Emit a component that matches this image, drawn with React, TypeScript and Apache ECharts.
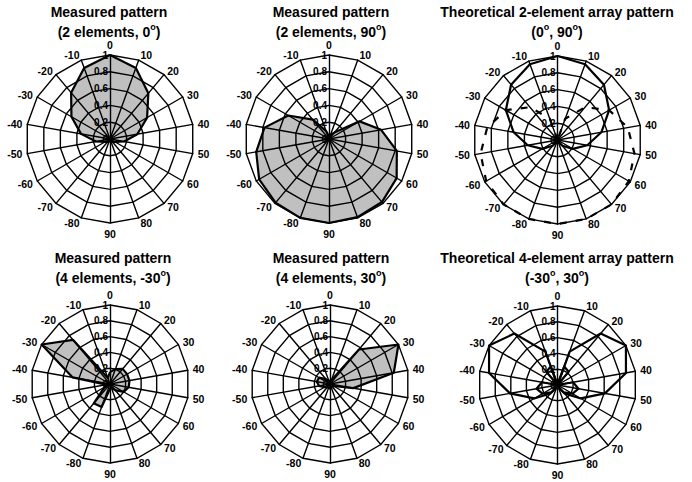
import { useEffect, useRef } from 'react';
import * as echarts from 'echarts';

// Bearing of each spoke, listed clockwise from the top (0) round to -10.
const ANGLES = [0, 10, 20, 30, 40, 50, 60, 70, 80, 90, -80, -70, -60, -50, -40, -30, -20, -10];

// Normalised amplitude at each bearing, in the same order as ANGLES.
const MEASURED_2EL_0 = [1, 0.9, 0.71, 0.51, 0.33, 0.17, 0.07, 0.04, 0.03, 0.03, 0.03, 0.04, 0.07, 0.17, 0.35, 0.53, 0.72, 0.9];
const MEASURED_2EL_90 = [0.03, 0.05, 0.1, 0.42, 0.63, 0.82, 0.93, 0.98, 0.99, 1, 1, 0.99, 0.96, 0.88, 0.78, 0.56, 0.3, 0.1];
const THEORY_2EL_0 = [1, 0.96, 0.86, 0.71, 0.53, 0.36, 0.21, 0.09, 0.02, 0, 0.02, 0.09, 0.21, 0.36, 0.53, 0.71, 0.86, 0.96];
const THEORY_2EL_90 = [0, 0.27, 0.51, 0.71, 0.85, 0.93, 0.98, 1, 1, 1, 1, 1, 0.98, 0.93, 0.85, 0.71, 0.51, 0.27];
const MEASURED_4EL_M30 = [0.15, 0.2, 0.25, 0.25, 0.25, 0.24, 0.2, 0.1, 0.05, 0.06, 0.31, 0.32, 0.08, 0.05, 0.48, 1, 0.73, 0.08];
const MEASURED_4EL_30 = [0.05, 0.05, 0.57, 1, 0.82, 0.3, 0.05, 0.04, 0.05, 0.06, 0.05, 0.05, 0.08, 0.14, 0.17, 0.16, 0.08, 0.04];
const THEORY_4EL_M30 = [0, 0.25, 0.22, 0, 0.2, 0.27, 0.22, 0.12, 0.03, 0, 0.03, 0.14, 0.34, 0.61, 0.88, 1, 0.85, 0.45];
const THEORY_4EL_30 = [0, 0.45, 0.85, 1, 0.88, 0.61, 0.34, 0.14, 0.03, 0, 0.03, 0.12, 0.22, 0.27, 0.2, 0, 0.22, 0.25];

const RADIAL_MIN = 0;
const RADIAL_MAX = 1;
const RADIAL_SPLITS = 5;

const FONT = '"Liberation Sans", Arial, sans-serif';
const FILL = '#c0c0c0';
const INK = '#000';

// ECharts places radar indicators counter-clockwise from the start angle,
// so keep the first entry at the top and reverse the rest.
const ccw = <T,>(arr: T[]): T[] => [arr[0], ...arr.slice(1).reverse()];

const makeRadar = (center: [number, number], radius: number) => ({
  center,
  radius,
  startAngle: 90,
  shape: 'polygon',
  splitNumber: RADIAL_SPLITS,
  z: 4,
  silent: true,
  indicator: ccw(ANGLES).map((a, i) => ({
    name: String(a),
    min: RADIAL_MIN,
    max: RADIAL_MAX,
    ...(i === 0
      ? {
          axisLabel: {
            show: true,
            color: INK,
            fontSize: 10,
            fontWeight: 'bold',
            fontFamily: FONT,
            margin: 2,
          },
        }
      : {}),
  })),
  axisName: { color: INK, fontSize: 10.5, fontWeight: 'bold', fontFamily: FONT },
  nameGap: 5,
  axisLine: { lineStyle: { color: INK, width: 1.4 } },
  splitLine: { lineStyle: { color: INK, width: 1.4 } },
  splitArea: { show: false },
  axisTick: { show: false },
  axisLabel: { show: false },
});

const TITLES = [
  { x: 109, y: 2, text: 'Measured pattern\n(2 elements, 0{sup|o})' },
  { x: 331, y: 2, text: 'Measured pattern\n(2 elements, 90{sup|o})' },
  { x: 557, y: 2, text: 'Theoretical 2-element array pattern\n(0{sup|o}, 90{sup|o})' },
  { x: 113, y: 248, text: 'Measured pattern\n(4 elements, -30{sup|o})' },
  { x: 331, y: 248, text: 'Measured pattern\n(4 elements, 30{sup|o})' },
  { x: 557, y: 248, text: 'Theoretical 4-element array pattern\n(-30{sup|o}, 30{sup|o})' },
];

// Grey area under a measured pattern
const area = (radarIndex: number, values: number[]) => ({
  type: 'radar',
  radarIndex,
  symbol: 'none',
  silent: true,
  z: 2,
  lineStyle: { width: 0, opacity: 0 },
  areaStyle: { color: FILL, opacity: 1 },
  data: [{ value: ccw(values) }],
});

// Pattern outline drawn above the grid
const outline = (radarIndex: number, values: number[], type: any = 'solid') => ({
  type: 'radar',
  radarIndex,
  symbol: 'none',
  silent: true,
  z: 6,
  lineStyle: { color: INK, width: 2.2, type },
  data: [{ value: ccw(values) }],
});

export default function App() {
  const ref = useRef<HTMLDivElement>(null);

  useEffect(() => {
    if (!ref.current) return;
    const chart = echarts.init(ref.current, undefined, { renderer: 'svg' });
    chart.setOption({
      animation: false,
      backgroundColor: '#fff',
      title: TITLES.map((t) => ({
        text: t.text,
        left: t.x,
        top: t.y,
        textAlign: 'center',
        padding: 0,
        textStyle: {
          color: INK,
          fontSize: 14,
          fontWeight: 'bold',
          fontFamily: FONT,
          lineHeight: 20,
          rich: {
            sup: {
              fontSize: 9,
              fontWeight: 'bold',
              fontFamily: FONT,
              color: INK,
              lineHeight: 12,
              verticalAlign: 'top',
            },
          },
        },
      })),
      radar: [
        makeRadar([110, 139], 84),
        makeRadar([329, 139], 84),
        makeRadar([557.5, 140], 84),
        makeRadar([110, 384], 79),
        makeRadar([330, 384], 79),
        makeRadar([557.5, 385], 79),
      ],
      series: [
        area(0, MEASURED_2EL_0),
        outline(0, MEASURED_2EL_0),
        area(1, MEASURED_2EL_90),
        outline(1, MEASURED_2EL_90),
        outline(2, THEORY_2EL_0),
        outline(2, THEORY_2EL_90, [7, 9]),
        area(3, MEASURED_4EL_M30),
        outline(3, MEASURED_4EL_M30),
        area(4, MEASURED_4EL_30),
        outline(4, MEASURED_4EL_30),
        outline(5, THEORY_4EL_M30),
        outline(5, THEORY_4EL_30),
      ],
    });
    return () => chart.dispose();
  }, []);

  return (
    <div
      ref={ref}
      style={{ position: 'fixed', left: 0, top: 0, width: 692, height: 482, background: '#fff' }}
    />
  );
}
